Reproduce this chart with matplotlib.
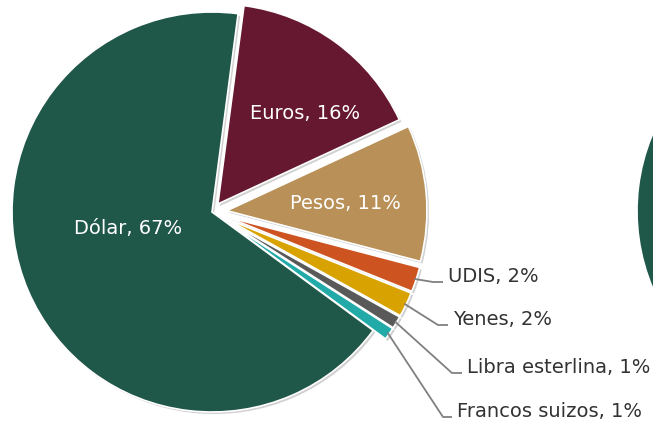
import numpy as np
import matplotlib.pyplot as plt
import matplotlib.patheffects as pe

# Datos
monedas = ['Euros', 'Pesos', 'UDIS', 'Yenes', 'Libra esterlina', 'Francos suizos', 'Dólar']
porcentajes = [16, 11, 2, 2, 1, 1, 67]
colores = ['#65182F', '#B99158', '#CD5320', '#D8A300', '#595959', '#21AAA8', '#1F5749']
separacion = [0.05, 0.075, 0.075, 0.075, 0.075, 0.075, 0]

# segundo pastel, casi fuera del cuadro a la derecha
porcentajes_2 = [16, 11, 2, 2, 1, 1, 67]

W, H = 653, 423
S = 200.0  # pixeles por unidad (radio del pastel)

def px(x, y):
    return x / S, (H - y) / S

fig = plt.figure(figsize=(W / 100, H / 100), dpi=100)
ax = fig.add_axes([0, 0, 1, 1])

sombra = [pe.SimplePatchShadow(offset=(1.5, -1.5), shadow_rgbFace='black', alpha=0.18), pe.Normal()]

wedges, _ = ax.pie(porcentajes, colors=colores, explode=separacion, startangle=82.5,
                   counterclock=False, center=px(212, 212), radius=1, frame=True,
                   wedgeprops=dict(edgecolor='white', linewidth=1.2))
for w in wedges:
    w.set_path_effects(sombra)

w2, _ = ax.pie(porcentajes_2, colors=colores, startangle=82.5, counterclock=False,
               center=px(835, 211), radius=0.99, frame=True,
               wedgeprops=dict(edgecolor='white', linewidth=1.2))
for w in w2:
    w.set_path_effects(sombra)

ax.set_xlim(0, W / S)
ax.set_ylim(0, H / S)
ax.axis('off')

# Etiquetas dentro
dentro = {'Dólar': (128, 228), 'Euros': (305, 113), 'Pesos': (345, 203)}
for nombre, (x, y) in dentro.items():
    i = monedas.index(nombre)
    ax.text(*px(x, y), f'{nombre}, {porcentajes[i]}%', color='white', fontsize=14,
            ha='center', va='center')

# Etiquetas fuera con lineas guia
codos = {'UDIS': (433, 282, 443), 'Yenes': (438, 325, 448),
         'Libra esterlina': (452, 373, 462), 'Francos suizos': (443, 417, 452)}
for nombre, (cx, cy, fx) in codos.items():
    i = monedas.index(nombre)
    w = wedges[i]
    t = np.deg2rad((w.theta1 + w.theta2) / 2)
    ax0 = w.center[0] + w.r * np.cos(t) * 0.99
    ay0 = w.center[1] + w.r * np.sin(t) * 0.99
    x1, y1 = px(cx, cy)
    x2, _ = px(fx, cy)
    ax.plot([ax0, x1, x2], [ay0, y1, y1], color='#808080', lw=1.3, solid_capstyle='butt')
    ax.text(x2 + 5 / S, y1, f'{nombre}, {porcentajes[i]}%', color='#333333', fontsize=14,
            ha='left', va='baseline')

fig.savefig('out.png', dpi=100, facecolor='white')
